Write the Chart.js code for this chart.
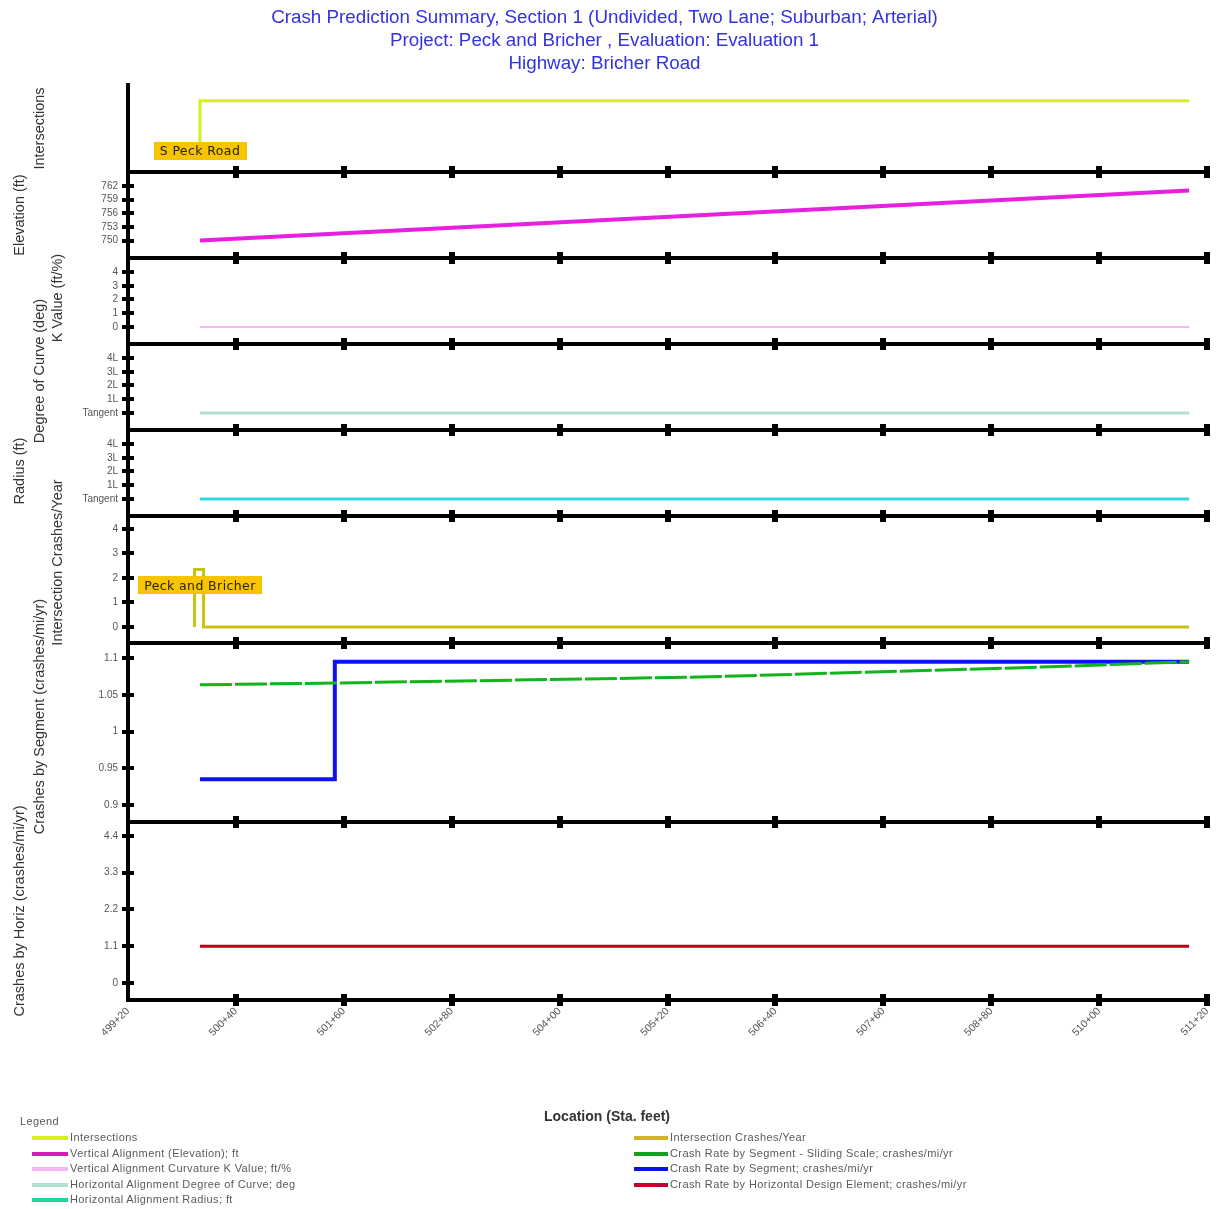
<!DOCTYPE html>
<html>
<head>
<meta charset="utf-8">
<script src="https://cdn.jsdelivr.net/npm/chart.js@4.4.1/dist/chart.umd.min.js"></script>
<style>
  html, body { margin: 0; padding: 0; background: #fff; }
  #wrap { position: relative; width: 1221px; height: 1209px; overflow: hidden; }
  #c { position: absolute; left: 0; top: 0; }
  #legend { position: absolute; left: 0; top: 0; width: 1221px; height: 1209px; pointer-events: none;
            font-family: 'Liberation Sans', Arial, sans-serif; font-size: 11px; letter-spacing: 0.4px; color: #5a5a5a; }
  .lg-item { position: absolute; white-space: nowrap; line-height: 12px; }
  .lg-sw { position: absolute; height: 4px; }
</style>
</head>
<body>
<div id="wrap">
  <canvas id="c" width="1221" height="1209"></canvas>
  <div id="legend"></div>
</div>
<script>
// ---------------- DATA ----------------
const titleLines = [
  'Crash Prediction Summary, Section 1 (Undivided, Two Lane; Suburban; Arterial)',
  'Project: Peck and Bricher , Evaluation: Evaluation 1',
  'Highway: Bricher Road'
];
const xMin = 49920, xMax = 51120, xStep = 120;

const intersectionNames = ['S Peck Road'];
const intersectionStations = [50000, 50000, 51100];
const intersectionLevels = [0.33, 0.82, 0.82];

const elevStations = [50000, 51100];
const elevValues = [750, 761];
const elevTicks = [750, 753, 756, 759, 762];

const kStations = [50000, 51100];
const kValues = [0, 0];
const kTicks = [0, 1, 2, 3, 4];

const curveStations = [50000, 51100];
const curveValues = [0, 0];
const curveTicks = [0, 1, 2, 3, 4];
const curveTickLabels = ['Tangent', '1L', '2L', '3L', '4L'];

const radiusStations = [50000, 51100];
const radiusValues = [0, 0];
const radiusTicks = [0, 1, 2, 3, 4];
const radiusTickLabels = ['Tangent', '1L', '2L', '3L', '4L'];

const crashIntNames = ['Peck and Bricher'];
const crashIntLabelAt = [50000, 1.7];
const crashIntStations = [49994, 49994, 50004, 50004, 51100];
const crashIntValues = [0, 2.35, 2.35, 0, 0];
const crashIntTicks = [0, 1, 2, 3, 4];

const slidingStations = [50000, 50150, 50555, 50945, 51100];
const slidingValues = [1.0635, 1.066, 1.074, 1.088, 1.095];
const segStations = [50000, 50150, 50150, 51100];
const segValues = [0.935, 0.935, 1.095, 1.095];
const segTicks = [0.9, 0.95, 1, 1.05, 1.1];

const horizStations = [50000, 51100];
const horizValues = [1.1, 1.1];
const horizTicks = [0, 1.1, 2.2, 3.3, 4.4];

const seriesNames = [
  'Intersections',
  'Vertical Alignment (Elevation); ft',
  'Vertical Alignment Curvature K Value; ft/%',
  'Horizontal Alignment Degree of Curve; deg',
  'Horizontal Alignment Radius; ft',
  'Intersection Crashes/Year',
  'Crash Rate by Segment - Sliding Scale; crashes/mi/yr',
  'Crash Rate by Segment; crashes/mi/yr',
  'Crash Rate by Horizontal Design Element; crashes/mi/yr'
];
const xTitle = 'Location (Sta. feet)';

// ---------------- HELPERS ----------------
const FONT = "'Liberation Sans', Arial, sans-serif";
const zip = (xs, ys) => xs.map((x, i) => ({x: x, y: ys[i]}));
const fmtStation = v => Math.floor(v / 100) + '+' + String(Math.round(v % 100)).padStart(2, '0');

function mkDS(label, xs, ys, axis, color, width, extra) {
  return Object.assign({
    label: label, data: zip(xs, ys), yAxisID: axis,
    borderColor: color, backgroundColor: color, borderWidth: width,
    pointRadius: 0, pointHoverRadius: 0, tension: 0, fill: false
  }, extra || {});
}

const datasets = [
  mkDS(seriesNames[0], intersectionStations, intersectionLevels, 'yInt', '#d6ef1a', 3, {legendCol: 0, legendColor: '#d6ef1a'}),
  mkDS(seriesNames[1], elevStations, elevValues, 'yElev', '#e61fe0', 4, {legendCol: 0, legendColor: '#d81cb8'}),
  mkDS(seriesNames[2], kStations, kValues, 'yK', '#f3b6f0', 2, {legendCol: 0, legendColor: '#f3b6f0'}),
  mkDS(seriesNames[3], curveStations, curveValues, 'yDeg', '#b4ddd2', 3, {legendCol: 0, legendColor: '#b4ddd2'}),
  mkDS(seriesNames[4], radiusStations, radiusValues, 'yRad', '#2edbe6', 3, {legendCol: 0, legendColor: '#1fd69c'}),
  mkDS(seriesNames[5], crashIntStations, crashIntValues, 'yIC', '#c9c212', 3, {legendCol: 1, legendColor: '#d2b428'}),
  mkDS(seriesNames[6], slidingStations, slidingValues, 'ySeg', '#14b41c', 3, {legendCol: 1, legendColor: '#14a01c', borderDash: [32, 3]}),
  mkDS(seriesNames[7], segStations, segValues, 'ySeg', '#0c12f0', 4, {legendCol: 1, legendColor: '#0c12e0'}),
  mkDS(seriesNames[8], horizStations, horizValues, 'yHor', '#c40018', 3, {legendCol: 1, legendColor: '#c40030'})
];

const tickFont = {family: FONT, size: 10};
const tickColor = '#555';

function yScale(opts) {
  const s = {
    type: 'linear', position: 'left', stack: 'panels', stackWeight: opts.weight,
    min: opts.min, max: opts.max,
    border: {display: true, color: '#000', width: 4},
    grid: {drawOnChartArea: false, drawTicks: false},
    ticks: {display: !!opts.ticks, autoSkip: false, font: tickFont, color: tickColor, padding: 10,
            callback: opts.labels ? (v) => { const i = opts.ticks.indexOf(v); return i >= 0 ? opts.labels[i] : ''; } : (v) => String(v)},
    afterFit: sc => { sc.width = 128; }
  };
  if (opts.ticks) {
    s.afterBuildTicks = sc => { sc.ticks = opts.ticks.map(v => ({value: v})); };
  }
  return s;
}

// panel definitions, top to bottom
const panels = [
  {id: 'yInt',  title: 'Intersections',                      tx: 40, dy: 0,   weight: 87,  min: 0,      max: 1},
  {id: 'yElev', title: 'Elevation (ft)',                     tx: 20, dy: 0,   weight: 86,  min: 746.15, max: 765.1, ticks: elevTicks},
  {id: 'yK',    title: 'K Value (ft/%)',                     tx: 58, dy: -3,  weight: 86,  min: -1.24,  max: 5.02, ticks: kTicks},
  {id: 'yDeg',  title: 'Degree of Curve (deg)',              tx: 40, dy: -16, weight: 86,  min: -1.24,  max: 5.02, ticks: curveTicks, labels: curveTickLabels},
  {id: 'yRad',  title: 'Radius (ft)',                        tx: 20, dy: -2,  weight: 86,  min: -1.24,  max: 5.02, ticks: radiusTicks, labels: radiusTickLabels},
  {id: 'yIC',   title: 'Intersection Crashes/Year',          tx: 58, dy: -17, weight: 127, min: -0.653, max: 4.53, ticks: crashIntTicks},
  {id: 'ySeg',  title: 'Crashes by Segment (crashes/mi/yr)', tx: 40, dy: -16, weight: 179, min: 0.8769, max: 1.1204, ticks: segTicks},
  {id: 'yHor',  title: 'Crashes by Horiz (crashes/mi/yr)',   tx: 20, dy: 0,   weight: 178, min: -0.509, max: 4.819, ticks: horizTicks}
];

const scales = {};
// bottom-most first: Chart.js stacks later-defined left axes on top
panels.slice().reverse().forEach(p => { scales[p.id] = yScale(p); });
scales.x = {
  type: 'linear', position: 'bottom', min: xMin, max: xMax,
  border: {display: true, color: '#000', width: 4},
  grid: {drawOnChartArea: false, drawTicks: false},
  ticks: {stepSize: xStep, autoSkip: false, font: {family: FONT, size: 10.5}, color: tickColor, minRotation: 45, maxRotation: 45, padding: 5,
          callback: v => fmtStation(v)},
  afterFit: sc => { sc.height = 209; }
};

function boxLabel(ctx, text, cx, cy) {
  ctx.save();
  ctx.font = "12.5px 'DejaVu Sans', Verdana, sans-serif";
  ctx.letterSpacing = '0.4px';
  const w = ctx.measureText(text).width + 12;
  ctx.fillStyle = '#f6c400';
  ctx.fillRect(Math.round(cx - w / 2), Math.round(cy - 9), Math.round(w), 18);
  ctx.fillStyle = '#2a2200';
  ctx.textAlign = 'center';
  ctx.textBaseline = 'middle';
  ctx.fillText(text, cx, cy + 1);
  ctx.restore();
}

const decor = {
  id: 'decor',
  afterDraw(chart) {
    const ctx = chart.ctx, xs = chart.scales.x, area = chart.chartArea;
    ctx.save();
    ctx.fillStyle = '#000';
    const xPx = xs.ticks.map(t => xs.getPixelForValue(t.value));
    panels.forEach(p => {
      const s = chart.scales[p.id];
      const yb = Math.round(s.bottom);
      ctx.fillRect(area.left - 2, yb - 2, area.right - area.left + 2, 4);
      xPx.forEach((px, j) => { if (j > 0) ctx.fillRect(Math.round(px) - 3, yb - 6, 6, 12); });
      if (p.ticks) {
        p.ticks.forEach(v => {
          const py = Math.round(s.getPixelForValue(v));
          ctx.fillRect(area.left - 6, py - 2, 12, 4);
        });
      }
    });
    // axis titles
    ctx.fillStyle = '#333';
    ctx.font = '14.5px ' + FONT;
    ctx.textAlign = 'center';
    ctx.textBaseline = 'middle';
    panels.forEach(p => {
      const s = chart.scales[p.id];
      const cy = (s.top + s.bottom) / 2 + p.dy;
      ctx.save();
      ctx.translate(p.tx, cy);
      ctx.rotate(-Math.PI / 2);
      ctx.fillText(p.title, 0, 0);
      ctx.restore();
    });
    ctx.font = 'bold 14px ' + FONT;
    ctx.fillText(xTitle, 607, 1117);
    // intersection labels
    const yInt = chart.scales.yInt, yIC = chart.scales.yIC;
    boxLabel(ctx, intersectionNames[0], xs.getPixelForValue(intersectionStations[0]), yInt.getPixelForValue(0.24));
    boxLabel(ctx, crashIntNames[0], xs.getPixelForValue(crashIntLabelAt[0]), yIC.getPixelForValue(crashIntLabelAt[1]));
    ctx.restore();
  }
};

const chart = new Chart(document.getElementById('c'), {
  type: 'line',
  data: {datasets: datasets},
  options: {
    responsive: false, animation: false, devicePixelRatio: 1,
    layout: {padding: {left: 0, right: 12, top: 0, bottom: 0}},
    plugins: {
      legend: {display: false},
      tooltip: {enabled: false},
      title: {display: true, text: titleLines, color: '#3232e0',
              font: {family: FONT, size: 18.8, weight: 'normal', lineHeight: 23 / 18.8},
              padding: {top: 6.5, bottom: 9.5}}
    },
    scales: scales
  },
  plugins: [decor]
});

// HTML legend built from the datasets
(function buildLegend() {
  const lg = document.getElementById('legend');
  const head = document.createElement('div');
  head.className = 'lg-item';
  head.style.left = '20px'; head.style.top = '1115px';
  head.textContent = 'Legend';
  lg.appendChild(head);
  const rows = [0, 0];
  chart.data.datasets.forEach(ds => {
    const col = ds.legendCol;
    const cy = 1137 + rows[col] * 15.5;
    rows[col]++;
    const sw = document.createElement('div');
    sw.className = 'lg-sw';
    sw.style.background = ds.legendColor;
    sw.style.left = (col === 0 ? 32 : 634) + 'px';
    sw.style.width = (col === 0 ? 36 : 34) + 'px';
    sw.style.top = (cy - 1) + 'px';
    lg.appendChild(sw);
    const t = document.createElement('div');
    t.className = 'lg-item';
    t.style.left = (col === 0 ? 70 : 670) + 'px';
    t.style.top = (cy - 6) + 'px';
    t.textContent = ds.label;
    lg.appendChild(t);
  });
})();
</script>
</body>
</html>
